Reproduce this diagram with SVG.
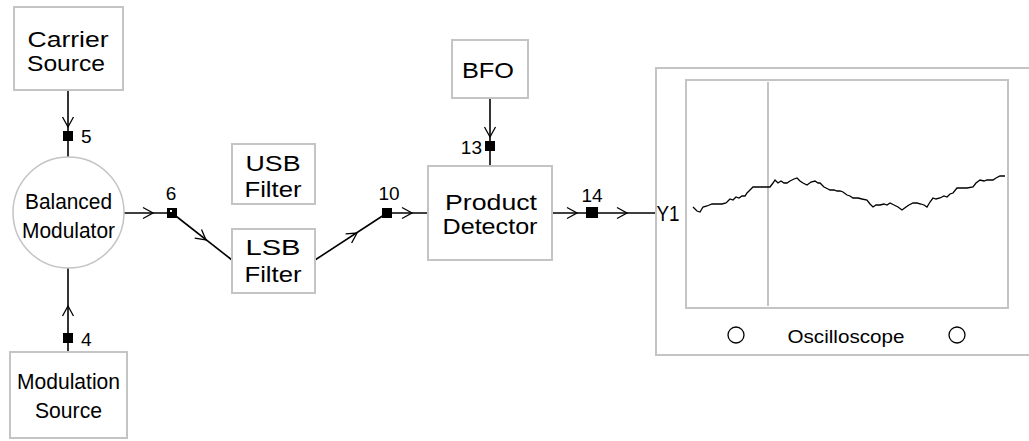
<svg xmlns="http://www.w3.org/2000/svg" xmlns:xlink="http://www.w3.org/1999/xlink" width="1029" height="441" viewBox="0 0 1029 441">
<style>
.box{fill:#fff;stroke:#c4c4c4;stroke-width:2}
.t{font-family:"Liberation Sans",Arial,sans-serif;font-size:22px;fill:#000;text-anchor:middle}
.lb{font-family:"Liberation Sans",Arial,sans-serif;font-size:19px;fill:#000}
.w{fill:none;stroke:#000;stroke-width:1.6}
.j{fill:#000}
.ch{fill:none;stroke:#000;stroke-width:1.3}
</style>
<defs>
<path id="chev" class="ch" d="M-10,-5.5 L0,0 L-10,5.5"/>
</defs>
<rect width="1029" height="441" fill="#fff"/>

<g id="connectors">
<line class="w" x1="68" y1="90" x2="68" y2="157"/>
<use xlink:href="#chev" transform="translate(68,127) rotate(90)"/>
<rect class="j" x="63" y="131" width="10" height="10"/>
<text class="lb" x="81" y="143">5</text>

<line class="w" x1="68" y1="352" x2="68" y2="268"/>
<use xlink:href="#chev" transform="translate(68,306) rotate(-90)"/>
<rect class="j" x="63" y="333" width="10" height="10"/>
<text class="lb" x="81" y="346">4</text>

<line class="w" x1="124" y1="213" x2="172" y2="213"/>
<use xlink:href="#chev" transform="translate(153,213)"/>
<rect class="j" x="167" y="208" width="10" height="10"/>
<rect fill="#fff" x="170" y="210" width="2" height="2"/>
<text class="lb" x="171" y="200" text-anchor="middle">6</text>

<line class="w" x1="172" y1="213" x2="232" y2="260"/>
<use xlink:href="#chev" transform="translate(206,240) rotate(38)"/>

<line class="w" x1="315" y1="260" x2="387" y2="213"/>
<use xlink:href="#chev" transform="translate(357,233) rotate(-33)"/>
<rect class="j" x="382" y="208" width="10" height="10"/>
<text class="lb" x="389" y="200" text-anchor="middle">10</text>
<line class="w" x1="387" y1="213" x2="428" y2="213"/>
<use xlink:href="#chev" transform="translate(412,213)"/>

<line class="w" x1="490" y1="98" x2="490" y2="166"/>
<use xlink:href="#chev" transform="translate(490,137) rotate(90)"/>
<rect class="j" x="485" y="141" width="10" height="10"/>
<text class="lb" x="482" y="154" text-anchor="end">13</text>

<line class="w" x1="552" y1="213" x2="656" y2="213"/>
<use xlink:href="#chev" transform="translate(577,213)"/>
<rect class="j" x="586" y="207" width="12" height="11"/>
<use xlink:href="#chev" transform="translate(627,213)"/>
<text class="lb" x="592" y="202" text-anchor="middle">14</text>
</g>

<g id="carrier-source">
<rect class="box" x="14" y="7" width="109" height="83"/>
<text class="t" x="68" y="47" textLength="81" lengthAdjust="spacingAndGlyphs">Carrier</text>
<text class="t" x="66" y="71" textLength="78" lengthAdjust="spacingAndGlyphs">Source</text>
</g>

<g id="balanced-modulator">
<circle cx="68.5" cy="212.5" r="55.5" fill="#fff" stroke="#c4c4c4" stroke-width="1.5"/>
<text class="t" x="68.5" y="209" textLength="87" lengthAdjust="spacingAndGlyphs">Balanced</text>
<text class="t" x="68.5" y="238" textLength="93" lengthAdjust="spacingAndGlyphs">Modulator</text>
</g>

<g id="modulation-source">
<rect class="box" x="10" y="352" width="117" height="86"/>
<text class="t" x="68.5" y="389" textLength="103" lengthAdjust="spacingAndGlyphs">Modulation</text>
<text class="t" x="68.5" y="418" textLength="67" lengthAdjust="spacingAndGlyphs">Source</text>
</g>

<g id="usb-filter">
<rect class="box" x="232" y="144" width="83" height="60"/>
<text class="t" x="273" y="171" textLength="55" lengthAdjust="spacingAndGlyphs">USB</text>
<text class="t" x="273" y="197" textLength="57" lengthAdjust="spacingAndGlyphs">Filter</text>
</g>

<g id="lsb-filter">
<rect class="box" x="232" y="229" width="83" height="64"/>
<text class="t" x="273" y="255" textLength="55" lengthAdjust="spacingAndGlyphs">LSB</text>
<text class="t" x="273" y="282" textLength="57" lengthAdjust="spacingAndGlyphs">Filter</text>
</g>

<g id="bfo">
<rect class="box" x="452" y="40" width="76" height="58"/>
<text class="t" x="488" y="78" textLength="52" lengthAdjust="spacingAndGlyphs">BFO</text>
</g>

<g id="product-detector">
<rect class="box" x="428" y="166" width="124" height="94"/>
<text class="t" x="491" y="210" textLength="92" lengthAdjust="spacingAndGlyphs">Product</text>
<text class="t" x="490" y="234" textLength="95" lengthAdjust="spacingAndGlyphs">Detector</text>
</g>

<g id="oscilloscope">
<rect x="656" y="68" width="400" height="287" fill="#fff" stroke="#c4c4c4" stroke-width="2"/>
<text class="t" x="668" y="221" textLength="23" lengthAdjust="spacingAndGlyphs">Y1</text>
<rect x="686" y="80" width="322" height="228" fill="#fff" stroke="#c4c4c4" stroke-width="2"/>
<line x1="768" y1="82" x2="768" y2="306" stroke="#b0b0b0" stroke-width="1.5"/>
<polyline fill="none" stroke="#000" stroke-width="1.3" points="693,207 697,211 700,212 703,207 707,206 712,204 716,204 722,204 726,203 730,199 733,200 736,197 739,198 742,196 745,196 747,193 750,190 753,187 760,187 770,187 773,183 775,180 778,183 781,181 784,183 787,183 790,181 794,179 797,178 800,181 803,183 807,185 811,182 815,181 818,183 820,183 824,187 828,189 830,190 834,190 837,191 840,191 843,192 847,195 850,196 853,198 858,198 862,199 867,200 870,204 873,207 876,205 880,205 884,204 887,205 890,203 894,205 898,207 902,210 906,207 909,205 913,203 917,203 921,204 924,205 927,207 930,202 933,198 936,199 940,198 944,196 947,197 950,194 953,193 957,188 962,188 967,188 973,187 976,183 980,180 984,181 987,180 993,180 996,178 1000,176 1005,176"/>
<circle cx="736" cy="335" r="8" fill="none" stroke="#000" stroke-width="1.3"/>
<circle cx="957" cy="335" r="8" fill="none" stroke="#000" stroke-width="1.3"/>
<text x="846" y="343" font-family="'Liberation Sans',Arial,sans-serif" font-size="19" text-anchor="middle" textLength="117" lengthAdjust="spacingAndGlyphs">Oscilloscope</text>
</g>
</svg>
